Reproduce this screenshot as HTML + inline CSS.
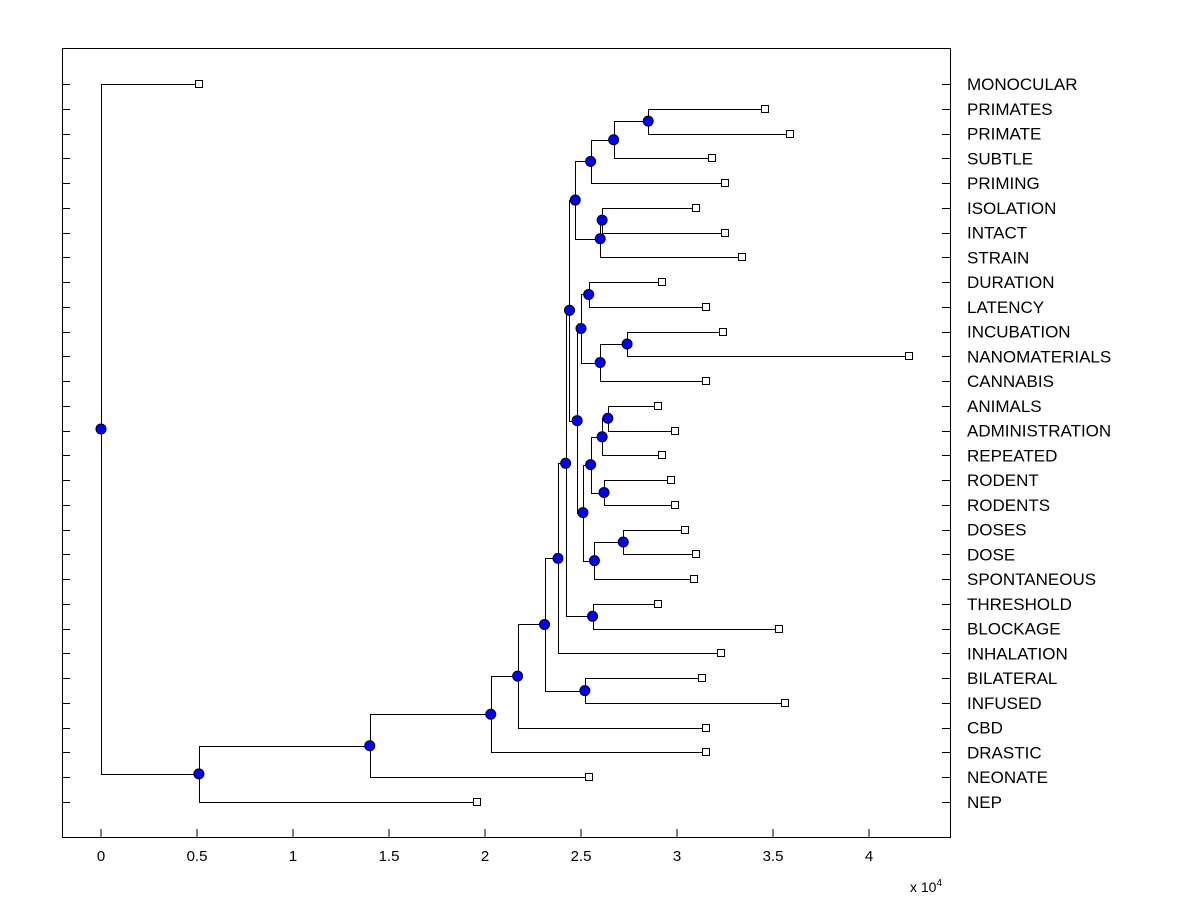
<!DOCTYPE html>
<html><head><meta charset="utf-8"><style>
body{margin:0;background:#fff;}
svg text{font-family:"Liberation Sans",Arial,sans-serif;}
</style></head><body>
<svg id="chart" width="1200" height="900" xmlns="http://www.w3.org/2000/svg">
<rect x="0" y="0" width="1200" height="900" fill="#fff"/>
<rect x="62.5" y="48.5" width="888" height="789" fill="none" stroke="#000"/>
<g id="ticks"></g><g id="links"></g><g id="marks"></g><g id="labels"></g>
<text x="910" y="892" font-size="14">x 10<tspan dy="-6" font-size="10">4</tspan></text>
</svg>
<script>
const leafNames = ["MONOCULAR","PRIMATES","PRIMATE","SUBTLE","PRIMING","ISOLATION","INTACT","STRAIN","DURATION","LATENCY","INCUBATION","NANOMATERIALS","CANNABIS","ANIMALS","ADMINISTRATION","REPEATED","RODENT","RODENTS","DOSES","DOSE","SPONTANEOUS","THRESHOLD","BLOCKAGE","INHALATION","BILATERAL","INFUSED","CBD","DRASTIC","NEONATE","NEP"];
const leafValues = [0.51,3.46,3.59,3.18,3.25,3.10,3.25,3.34,2.92,3.15,3.24,4.21,3.15,2.90,2.99,2.92,2.97,2.99,3.04,3.10,3.09,2.90,3.53,3.23,3.13,3.56,3.15,3.15,2.54,1.96];
const nodeNames = ["PR","P2","P","I2","I","A","D","F","E","C","M","K","L","G","N","H","DD","B","N8","THR","N7","N6","BI","N5","N4","N3","N2","N1","ROOT"];
const nodeValues = [2.85,2.67,2.55,2.61,2.60,2.47,2.54,2.74,2.60,2.50,2.64,2.61,2.62,2.55,2.72,2.57,2.51,2.48,2.44,2.56,2.42,2.38,2.52,2.31,2.17,2.03,1.40,0.51,0.0];
const nodeChildren = [["PRIMATES","PRIMATE"],["PR","SUBTLE"],["P2","PRIMING"],["ISOLATION","INTACT"],["I2","STRAIN"],["P","I"],["DURATION","LATENCY"],["INCUBATION","NANOMATERIALS"],["F","CANNABIS"],["D","E"],["ANIMALS","ADMINISTRATION"],["M","REPEATED"],["RODENT","RODENTS"],["K","L"],["DOSES","DOSE"],["N","SPONTANEOUS"],["G","H"],["C","DD"],["A","B"],["THRESHOLD","BLOCKAGE"],["N8","THR"],["N7","INHALATION"],["BILATERAL","INFUSED"],["N6","BI"],["N5","CBD"],["N4","DRASTIC"],["N3","NEONATE"],["N2","NEP"],["MONOCULAR","N1"]];
const xTicks = [0,0.5,1,1.5,2,2.5,3,3.5,4];

const NS="http://www.w3.org/2000/svg";
const xS = v => 101 + v*192;
const yS = i => 84 + i*(802-84)/29;
function mk(tag, attrs, parent){const e=document.createElementNS(NS,tag);for(const k in attrs)e.setAttribute(k,attrs[k]);document.getElementById(parent).appendChild(e);return e;}
const pos = {};
leafNames.forEach((n,i)=>{pos[n]={x:xS(leafValues[i]),y:yS(i)};});
nodeNames.forEach((n,i)=>{
  const [a,b]=nodeChildren[i];
  pos[n]={x:xS(nodeValues[i]),y:(pos[a].y+pos[b].y)/2};
});
xTicks.forEach(t=>{
  const x=xS(t);
  let l=mk("line",{x1:x,x2:x,y1:837,y2:829,stroke:"#000"},"ticks");
  
  
  let tx=mk("text",{x:x,y:861,"font-size":15,"text-anchor":"middle"},"ticks");
  tx.textContent=String(t);
  
  
});
leafNames.forEach((n,i)=>{
  const y=Math.round(yS(i))+0.5;
  let l1=mk("line",{x1:62,x2:70,y1:y,y2:y,stroke:"#000"},"ticks");
  
  
  let l2=mk("line",{x1:942,x2:950,y1:y,y2:y,stroke:"#000"},"ticks");
  
  
  let t=mk("text",{x:967,y:yS(i)+6,"font-size":17},"labels");
  t.textContent=n;
  
  
});
nodeNames.forEach((n,i)=>{
  const p=pos[n];const [a,b]=nodeChildren[i];const A=pos[a],B=pos[b];
  const r=v=>Math.round(v)+0.5;
  let path=mk("path",{d:`M${r(A.x)},${r(A.y)}H${r(p.x)}V${r(B.y)}H${r(B.x)}`,fill:"none",stroke:"#000","stroke-width":1},"links");
  
  
});
leafNames.forEach((n)=>{
  const p=pos[n];
  let s=mk("rect",{x:Math.round(p.x)-3.5,y:Math.round(p.y)-3.5,width:7,height:7,fill:"#fff",stroke:"#000"},"marks");
  
  
});
nodeNames.forEach((n)=>{
  const p=pos[n];
  let c=mk("circle",{cx:p.x,cy:p.y,r:5,fill:"#0000ff",stroke:"#000"},"marks");
  
  
});
</script>
</body></html>
